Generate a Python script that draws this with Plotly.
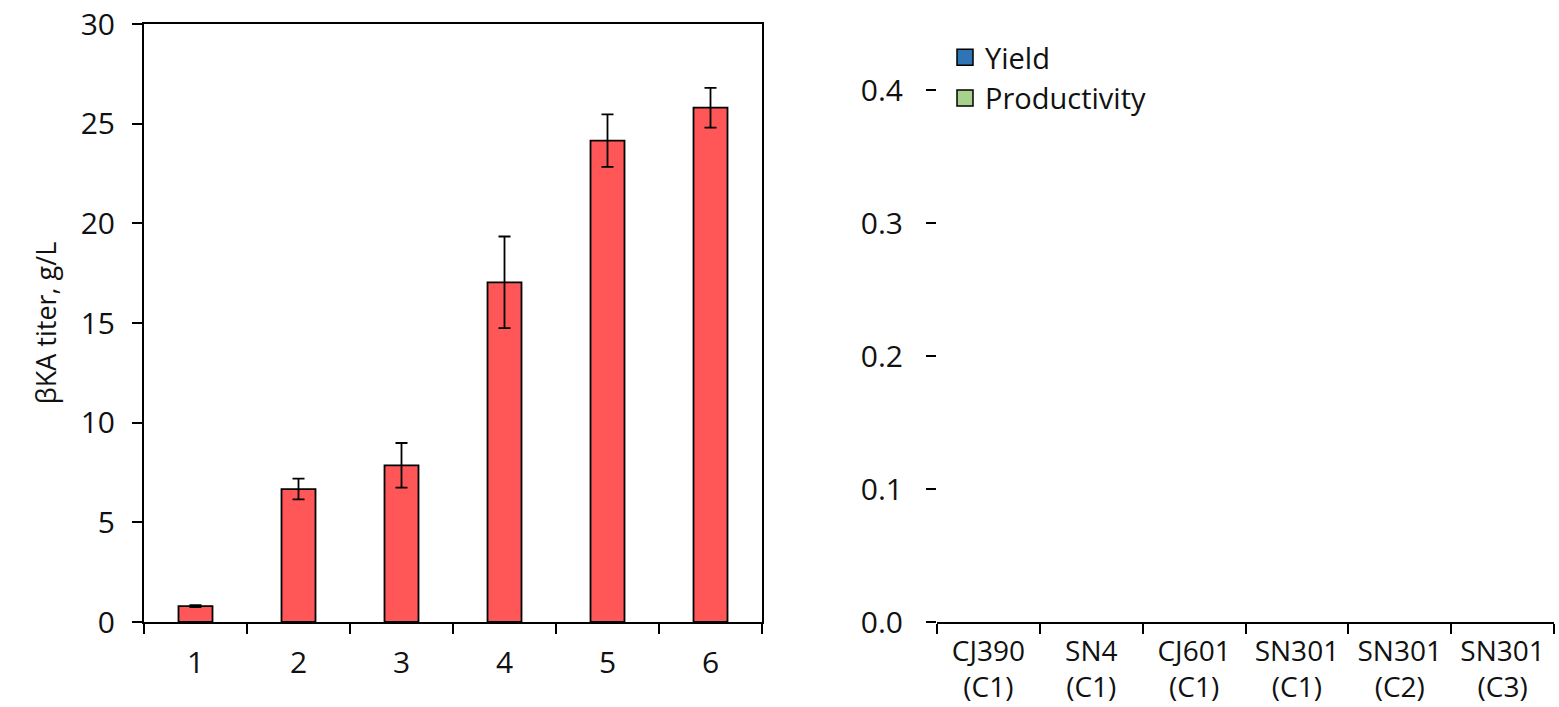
import plotly.graph_objects as go

# Left panel data
conditions = ["1", "2", "3", "4", "5", "6"]
titer = [0.8, 6.67, 7.86, 17.04, 24.15, 25.8]
titer_err = [0.05, 0.52, 1.12, 2.3, 1.32, 1.0]

# Right panel data (empty in the reference)
strains = ["CJ390<br>(C1)", "SN4<br>(C1)", "CJ601<br>(C1)", "SN301<br>(C1)", "SN301<br>(C2)", "SN301<br>(C3)"]
yield_vals = [None, None, None, None, None, None]
productivity_vals = [None, None, None, None, None, None]

FONT = "Open Sans"
W, H = 1559, 707
TXT = "#111111"

fig = go.Figure()
fig.add_trace(go.Bar(
    x=conditions, y=titer, width=0.33,
    marker=dict(color="#FF5757", line=dict(color="black", width=1.8)),
    error_y=dict(type="data", array=titer_err, color="black", thickness=1.8, width=6),
    xaxis="x", yaxis="y", showlegend=False,
))
fig.add_trace(go.Scatter(
    x=strains, y=yield_vals, mode="markers", name="Yield", legendgroup="a",
    marker=dict(symbol="square", size=16, color="#2E75B6", line=dict(color="black", width=1.5)),
    xaxis="x2", yaxis="y2",
))
fig.add_trace(go.Scatter(
    x=strains, y=productivity_vals, mode="markers", name="Productivity", legendgroup="b",
    marker=dict(symbol="square", size=16, color="#A9D18E", line=dict(color="black", width=1.5)),
    xaxis="x2", yaxis="y2",
))

ydom = [1 - 622 / H, 1 - 24 / H]
tickfont = dict(family=FONT, size=30, color=TXT)

fig.update_layout(
    width=W, height=H,
    margin=dict(l=0, r=0, t=0, b=0),
    paper_bgcolor="white", plot_bgcolor="white",
    font=dict(family=FONT, color=TXT),
    xaxis=dict(
        domain=[144 / W, 762 / W], type="category", tickson="boundaries",
        showline=True, linecolor="black", linewidth=2, mirror=True,
        ticks="outside", ticklen=10, tickwidth=1.5, tickcolor="black",
        tickfont=tickfont, ticklabelstandoff=13, showgrid=False, zeroline=False,
        automargin=False,
    ),
    yaxis=dict(
        domain=ydom, range=[0, 30], tickvals=[0, 5, 10, 15, 20, 25, 30],
        showline=True, linecolor="black", linewidth=2, mirror=True,
        ticks="outside", ticklen=10, tickwidth=1.5, tickcolor="black",
        tickfont=tickfont, ticklabelstandoff=11, showgrid=False, zeroline=False,
        automargin=False,
        title=dict(text="βKA titer, g/L", font=dict(family=FONT, size=27, color=TXT), standoff=16),
    ),
    xaxis2=dict(
        domain=[937 / W, 1554 / W], type="category", tickson="boundaries",
        categoryorder="array", categoryarray=strains, range=[-0.5, 5.5],
        showline=True, linecolor="black", linewidth=2,
        ticks="outside", ticklen=10, tickwidth=1.5, tickcolor="black",
        tickfont=dict(family=FONT, size=28, color=TXT), ticklabelstandoff=3,
        showgrid=False, zeroline=False, automargin=False,
    ),
    yaxis2=dict(
        domain=ydom, range=[0, 0.45], tickvals=[0, 0.1, 0.2, 0.3, 0.4], tickformat=".1f",
        anchor="x2", showline=False,
        ticks="outside", ticklen=10, tickwidth=1.5, tickcolor="black",
        tickfont=dict(family=FONT, size=30, color=TXT), ticklabelstandoff=17,
        showgrid=False, zeroline=False, automargin=False,
    ),
    legend=dict(
        x=945 / W, y=1 - 32 / H, xanchor="left", yanchor="top",
        font=dict(family=FONT, size=29, color=TXT),
        bgcolor="rgba(0,0,0,0)", tracegroupgap=0, itemwidth=30,
    ),
    showlegend=True,
)

fig.write_html("out.html")
